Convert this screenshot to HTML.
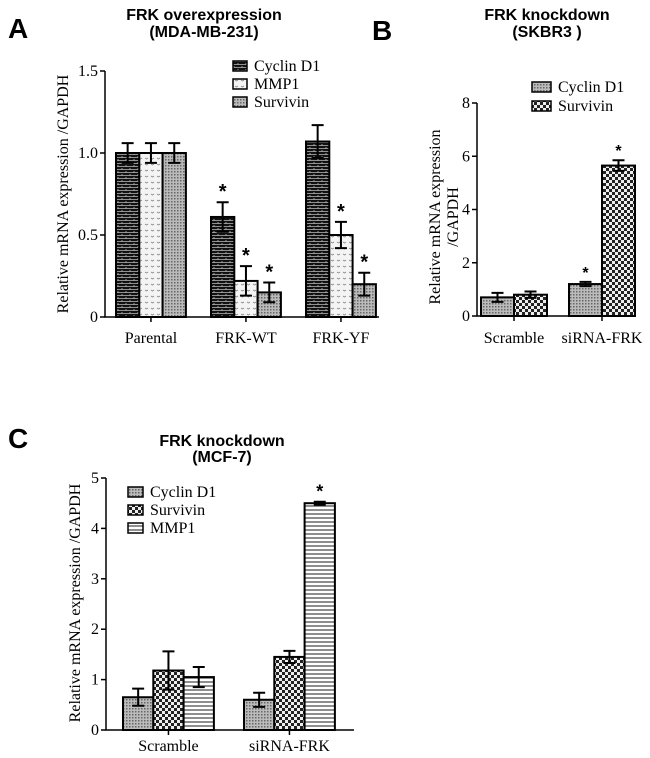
<!DOCTYPE html>
<html><head><meta charset="utf-8"><style>
body{margin:0;background:#fff;width:650px;height:758px;overflow:hidden}
svg{display:block}
.t{font-family:"Liberation Sans",sans-serif;font-weight:bold;font-size:16px}
.s{font-family:"Liberation Serif",serif;font-size:16px}
</style></head><body>
<svg id="fig" width="650" height="758">
<defs>
<pattern id="brick" width="8" height="6" patternUnits="userSpaceOnUse"><rect width="8" height="6" fill="#111"/><path d="M0 1.5H8M0 4.5H8M2 0V1.5M6 3V4.5" stroke="#bbb" stroke-width="0.8"/></pattern>
<pattern id="dots" width="6" height="6" patternUnits="userSpaceOnUse"><rect width="6" height="6" fill="#f4f4f4"/><path d="M1 2l1.5 1 1.5-1" stroke="#888" fill="none" stroke-width="0.8"/></pattern>
<pattern id="fine" width="3" height="3" patternUnits="userSpaceOnUse"><rect width="3" height="3" fill="#bbb"/><rect width="1.5" height="1.5" fill="#666"/></pattern>
<pattern id="check" width="6" height="6" patternUnits="userSpaceOnUse"><rect width="6" height="6" fill="#eee"/><rect width="3" height="3" fill="#222"/><rect x="3" y="3" width="3" height="3" fill="#222"/></pattern>
<pattern id="hline" width="4" height="4" patternUnits="userSpaceOnUse"><rect width="4" height="4" fill="#fff"/><path d="M0 2H4" stroke="#444" stroke-width="1.2"/></pattern>
</defs>
<g id="A"></g>
<g id="B"></g>
<g id="C"></g>
</svg>
<script>
// Panel A data
const aCategories=["Parental","FRK-WT","FRK-YF"];
const aSeries=["Cyclin D1","MMP1","Survivin"];
const aCyclin=[1.0,0.61,1.07];
const aMMP1=[1.0,0.22,0.5];
const aSurvivin=[1.0,0.15,0.2];
const aCyclinErr=[0.06,0.09,0.1];
const aMMP1Err=[0.06,0.09,0.08];
const aSurvivinErr=[0.06,0.06,0.07];
const aStars=[[false,true,false],[false,true,true],[false,true,true]];
const aTicks=["0","0.5","1.0","1.5"];
const aTickVals=[0,0.5,1.0,1.5];
// Panel B data
const bCategories=["Scramble","siRNA-FRK"];
const bSeries=["Cyclin D1","Survivin"];
const bCyclin=[0.7,1.2];
const bSurvivin=[0.8,5.65];
const bCyclinErr=[0.17,0.08];
const bSurvivinErr=[0.12,0.2];
const bStars=[[false,true],[false,true]];
const bTicks=["0","2","4","6","8"];
const bTickVals=[0,2,4,6,8];
// Panel C data
const cCategories=["Scramble","siRNA-FRK"];
const cSeries=["Cyclin D1","Survivin","MMP1"];
const cCyclin=[0.65,0.6];
const cSurvivin=[1.18,1.45];
const cMMP1=[1.05,4.5];
const cCyclinErr=[0.17,0.14];
const cSurvivinErr=[0.38,0.12];
const cMMP1Err=[0.2,0.03];
const cStars=[[false,false],[false,false],[false,true]];
const cTicks=["0","1","2","3","4","5"];
const cTickVals=[0,1,2,3,4,5];

const NS="http://www.w3.org/2000/svg";
function mk(p,tag,at,txt){const e=document.createElementNS(NS,tag);for(const k in at)e.setAttribute(k,at[k]);if(txt!=null)e.textContent=txt;p.appendChild(e);return e;}

function panel(g,cfg){
  const y=v=>cfg.y0-(v/cfg.ymax)*(cfg.y0-cfg.ytop);
  cfg.series.forEach((vals,si)=>{
    vals.forEach((v,ci)=>{
      const x=cfg.groupStart+ci*cfg.groupGap+si*cfg.bw;
      const r=mk(g,"rect",{x:x,y:y(v),width:cfg.bw,height:cfg.y0-y(v),fill:"url(#"+cfg.fills[si]+")",stroke:"#000","stroke-width":2});
      
      
      const e=cfg.errs[si][ci],cx=x+cfg.bw/2;
      const eb=mk(g,"path",{d:`M${cx} ${y(v-e)}V${y(v+e)}M${cx-6} ${y(v+e)}H${cx+6}M${cx-6} ${y(v-e)}H${cx+6}`,stroke:"#000","stroke-width":2,fill:"none"});
      
      
      if(cfg.stars[si][ci]){
        const st=mk(g,"text",{x:cx,y:y(v+e)-4,"text-anchor":"middle","font-family":"Liberation Sans,sans-serif","font-size":cfg.starSize,"font-weight":"bold"},"*");
        
        
      }
    });
  });
  const ax=mk(g,"path",{d:`M${cfg.ax} ${cfg.ytop}V${cfg.y0}H${cfg.axEnd}`,stroke:"#000","stroke-width":1.5,fill:"none"});
  
  
  cfg.tickVals.forEach((tv,i)=>{
    mk(g,"path",{d:`M${cfg.ax-5} ${y(tv)}H${cfg.ax}`,stroke:"#000","stroke-width":1.5});
    const t=mk(g,"text",{x:cfg.ax-7,y:y(tv)+5,"text-anchor":"end",class:"s"},cfg.ticks[i]);
    
    
  });
  const ns=cfg.series.length;
  cfg.cats.forEach((c,ci)=>{
    const cx=cfg.groupStart+ci*cfg.groupGap+ns*cfg.bw/2;
    mk(g,"path",{d:`M${cx} ${cfg.y0}V${cfg.y0+5}`,stroke:"#000","stroke-width":1.5});
    const t=mk(g,"text",{x:cx,y:cfg.xlabY,"text-anchor":"middle",class:"s"},c);
    
    
  });
  cfg.names.forEach((n,i)=>{
    const ly=cfg.legY+i*cfg.legGap;
    const sw=mk(g,"rect",{x:cfg.legX,y:ly-5,width:cfg.legW,height:10,fill:"url(#"+cfg.fills[i]+")",stroke:"#000","stroke-width":1.5});
    
    
    const t=mk(g,"text",{x:cfg.legX+cfg.legW+7,y:ly+5,class:"s"},n);
    
    
  });
}

const A=document.getElementById("A"),B=document.getElementById("B"),C=document.getElementById("C");
panel(A,{y0:317,ytop:71,ymax:1.5,ax:105,axEnd:379,groupStart:116,groupGap:95,bw:23.3,
  series:[aCyclin,aMMP1,aSurvivin],errs:[aCyclinErr,aMMP1Err,aSurvivinErr],stars:aStars,
  fills:["brick","dots","fine"],names:aSeries,cats:aCategories,ticks:aTicks,tickVals:aTickVals,
  xlabY:343,legX:233,legY:66,legGap:18,legW:14,starSize:20});
panel(B,{y0:316,ytop:103,ymax:8,ax:477,axEnd:624,groupStart:481,groupGap:88,bw:33,
  series:[bCyclin,bSurvivin],errs:[bCyclinErr,bSurvivinErr],stars:bStars,
  fills:["fine","check"],names:bSeries,cats:bCategories,ticks:bTicks,tickVals:bTickVals,
  xlabY:343,legX:532,legY:87,legGap:19,legW:19,starSize:16});
panel(C,{y0:730,ytop:478,ymax:5,ax:106,axEnd:354,groupStart:123,groupGap:121,bw:30.3,
  series:[cCyclin,cSurvivin,cMMP1],errs:[cCyclinErr,cSurvivinErr,cMMP1Err],stars:cStars,
  fills:["fine","check","hline"],names:cSeries,cats:cCategories,ticks:cTicks,tickVals:cTickVals,
  xlabY:751,legX:128,legY:492,legGap:18,legW:15,starSize:18});

function txt(p,at,s,name){const t=mk(p,"text",at,s);return t;}
const F=document.getElementById("fig");
txt(F,{x:8,y:38,"font-family":"Liberation Sans,sans-serif","font-weight":"bold","font-size":28},"A","panel-label-a");
txt(F,{x:372,y:40,"font-family":"Liberation Sans,sans-serif","font-weight":"bold","font-size":28},"B","panel-label-b");
txt(F,{x:8,y:448,"font-family":"Liberation Sans,sans-serif","font-weight":"bold","font-size":28},"C","panel-label-c");
txt(F,{x:204,y:20,"text-anchor":"middle",class:"t"},"FRK overexpression","title-a");
txt(F,{x:204,y:37,"text-anchor":"middle",class:"t"},"(MDA-MB-231)","subtitle-a");
txt(F,{x:547,y:20,"text-anchor":"middle",class:"t"},"FRK knockdown","title-b");
txt(F,{x:547,y:37,"text-anchor":"middle",class:"t"},"(SKBR3 )","subtitle-b");
txt(F,{x:222,y:446,"text-anchor":"middle",class:"t"},"FRK knockdown","title-c");
txt(F,{x:222,y:462,"text-anchor":"middle",class:"t"},"(MCF-7)","subtitle-c");
txt(F,{x:0,y:0,"text-anchor":"middle",class:"s",transform:"translate(68,194) rotate(-90)"},"Relative mRNA expression /GAPDH","y-axis-title-a");
txt(F,{x:0,y:0,"text-anchor":"middle",class:"s",transform:"translate(440,217) rotate(-90)"},"Relative mRNA expression","y-axis-title-b");
txt(F,{x:0,y:0,"text-anchor":"middle",class:"s",transform:"translate(458,217) rotate(-90)"},"/GAPDH","y-axis-title-b-2");
txt(F,{x:0,y:0,"text-anchor":"middle",class:"s",transform:"translate(80,603) rotate(-90)"},"Relative mRNA expression /GAPDH","y-axis-title-c");
</script>
</body></html>
